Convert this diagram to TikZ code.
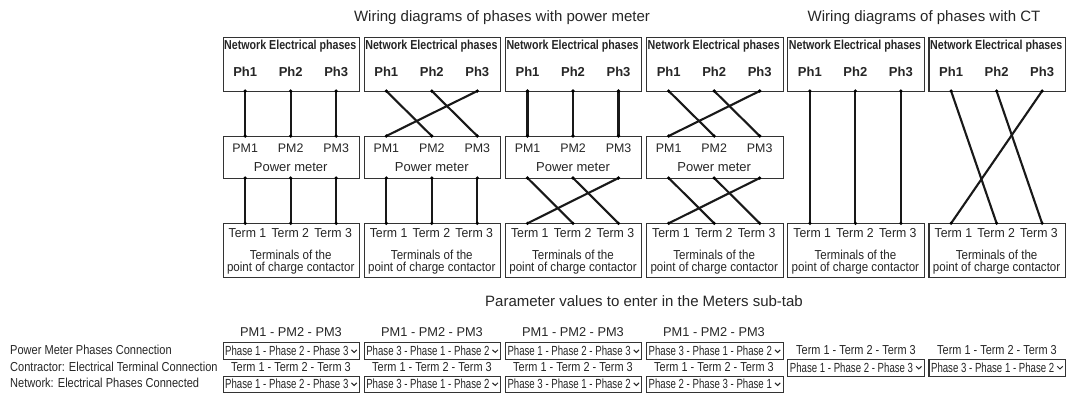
\documentclass[tikz,border=0pt]{standalone}
\usepackage{fontspec}
\setmainfont{Liberation Sans}
\tikzset{
  x=1pt,y=-1pt,
  panel/.style={draw=black!80,line width=1.1pt,fill=white,inner sep=0pt,minimum width=136.5pt,anchor=north west},
  wire/.style={line width=2.1pt,black!90},
  lab/.style={inner sep=0pt,font=\fontsize{13}{15}\selectfont,text=black!85},
  pmlab/.style={inner sep=0pt,font=\fontsize{12.4}{14}\selectfont,text=black!85},
  head/.style={inner sep=0pt,font=\fontsize{15}{17}\selectfont,text=black!85},
  sel/.style={draw=black!80,line width=1.1pt,inner sep=0pt,minimum width=136.5pt,anchor=north west},
  chev/.style={line width=1pt,black!85},
}
\newcommand{\cnd}[1]{\scalebox{0.89}[1]{#1}}
\newcommand{\tnd}[1]{\scalebox{0.946}[1]{#1}}
\newcommand{\hnd}[1]{\scalebox{0.84}[1]{#1}}
\newcommand{\rnd}[1]{\scalebox{0.85}[1]{#1}}
\newcommand{\snd}[1]{\scalebox{0.73}[1]{\fontsize{13.2}{15}\selectfont #1}}
\newcommand{\selbox}[5]{% name, x, y, height, text
  \node[sel,minimum height=#4pt] (#1) at (#2,#3) {};
  \node[lab,anchor=west] (#1t) at ([xshift=2.5pt]#1.west) {\snd{#5}};
  \draw[chev] ([xshift=-8.7pt,yshift=1.2pt]#1.east) -- ([xshift=-6pt,yshift=-1.4pt]#1.east) -- ([xshift=-3.3pt,yshift=1.2pt]#1.east);
}
\begin{document}
\begin{tikzpicture}
\useasboundingbox (0,0) rectangle (1072,392);
\fill[white] (0,0) rectangle (1072,392);
\node[head] (titleA) at (502,18) {Wiring diagrams of phases with power meter};
\node[head] (titleB) at (924,18) {Wiring diagrams of phases with CT};
% panels
\foreach \n/\xx in {1/222.5,2/363.6,3/504.8,4/646,5/787.2,6/928.4}{
  \node[panel,minimum height=54.5pt] (net\n) at (\xx,36.7) {};
  \node[lab,anchor=center] (netT\n) at (\xx+67.8,46.6) {\scalebox{0.82}[1]{\fontsize{13}{15}\selectfont\bfseries Network Electrical phases}};
  \node[panel,minimum height=54pt] (term\n) at (\xx,223.3) {};
  \node[lab] (t1\n) at (\xx+25,233) {\tnd{Term 1}};
  \node[lab] (t2\n) at (\xx+67.8,233) {\tnd{Term 2}};
  \node[lab] (t3\n) at (\xx+110.6,233) {\tnd{Term 3}};
  \node[lab] (tA\n) at (\xx+68.2,255.3) {\cnd{Terminals of the}};
  \node[lab] (tB\n) at (\xx+68.2,268.5) {\cnd{point of charge contactor}};
  \foreach \k/\dx in {1/22.7,2/68.2,3/113.7}{
    \node[lab,font=\fontsize{13}{15}\selectfont\bfseries] (ph\k\n) at (\xx+\dx,71.8) {Ph\k};
    \coordinate (a\k\n) at (\xx+\dx,91);
    \coordinate (d\k\n) at (\xx+\dx,223.3);
  }
}
\foreach \n/\xx in {1/222.5,2/363.6,3/504.8,4/646}{
  \node[panel,minimum height=42pt] (pm\n) at (\xx,136) {};
  \node[lab] (pmT\n) at (\xx+68.2,167) {Power meter};
  \foreach \k/\dx in {1/22.7,2/68.2,3/113.7}{
    \node[pmlab] (pmL\k\n) at (\xx+\dx,148.3) {PM\k};
    \coordinate (b\k\n) at (\xx+\dx,136);
    \coordinate (c\k\n) at (\xx+\dx,178);
  }
}
% wires  start/end pairs
\foreach \p/\q in {a11/b11,a21/b21,a31/b31,
  a12/b22,a22/b32,a32/b12,
  a13/b13,a23/b23,a33/b33,
  a14/b24,a24/b34,a34/b14,
  c11/d11,c21/d21,c31/d31,
  c12/d12,c22/d22,c32/d32,
  c13/d23,c23/d33,c33/d13,
  c14/d24,c24/d34,c34/d14,
  a15/d15,a25/d25,a35/d35,
  a16/d26,a26/d36,a36/d16}{
  \draw[wire] (\p) -- (\q);
  \fill (\p) circle (1.8pt);
  \fill (\q) circle (1.8pt);
}
% parameters
\node[head] (paramT) at (644,301) {Parameter values to enter in the Meters sub-tab};
\node[lab,anchor=west] (rowA) at (10,350) {\rnd{Power Meter Phases Connection}};
\node[lab,anchor=west] (rowB) at (10,366.7) {\rnd{Contractor: Electrical Terminal Connection}};
\node[lab,anchor=west] (rowC) at (10,383) {\rnd{Network: Electrical Phases Connected}};
\foreach \n/\xx in {1/291,2/432,3/573,4/714}{
  \node[lab,font=\fontsize{12.8}{14}\selectfont] (hp\n) at (\xx,332) {PM1 - PM2 - PM3};
  \node[lab] (ht\n) at (\xx,366.7) {\hnd{Term 1 - Term 2 - Term 3}};
}
\foreach \n/\xx in {5/856,6/997}{
  \node[lab] (hq\n) at (\xx,350) {\hnd{Term 1 - Term 2 - Term 3}};
}
\selbox{s1}{222.5}{342}{17}{Phase 1 - Phase 2 - Phase 3}
\selbox{s2}{363.6}{342}{17}{Phase 3 - Phase 1 - Phase 2}
\selbox{s3}{504.8}{342}{17}{Phase 1 - Phase 2 - Phase 3}
\selbox{s4}{646}{342}{17}{Phase 3 - Phase 1 - Phase 2}
\selbox{s5}{787.2}{358.5}{17}{Phase 1 - Phase 2 - Phase 3}
\selbox{s6}{928.4}{358.5}{17}{Phase 3 - Phase 1 - Phase 2}
\selbox{r1}{222.5}{375.5}{16}{Phase 1 - Phase 2 - Phase 3}
\selbox{r2}{363.6}{375.5}{16}{Phase 3 - Phase 1 - Phase 2}
\selbox{r3}{504.8}{375.5}{16}{Phase 3 - Phase 1 - Phase 2}
\selbox{r4}{646}{375.5}{16}{Phase 2 - Phase 3 - Phase 1}
\end{tikzpicture}
\end{document}
